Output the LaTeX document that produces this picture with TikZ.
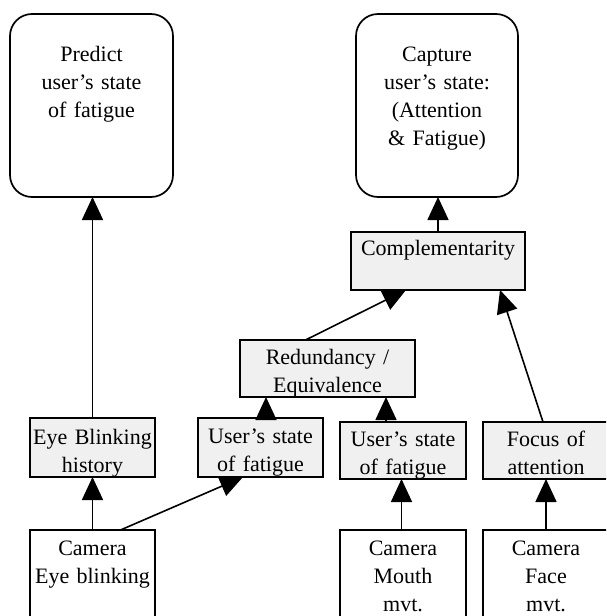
\documentclass[tikz,border=0pt]{standalone}
\usepackage{fontspec}
\setmainfont{Liberation Serif}
\usetikzlibrary{arrows.meta}
\definecolor{stagefill}{RGB}{240,240,240}
\tikzset{
	fusion/.is family,
	fusion/.cd,
	box/.style = {
		draw,
		line width = 1.7pt,
		inner sep = 0pt,
		outer sep = 0pt,
		anchor = north west,
		align = center,
		font = \fontsize{22}{28}\selectfont,
	},
	goal/.style = {
		fusion/box,
		rounded corners = 22pt,
	},
	stage/.style = {
		fusion/box,
		fill = stagefill,
	},
	sensor/.style = {
		fusion/box,
		fill = white,
	},
	link/.style = {
		line width = 1.6pt,
		-{Triangle[length = 23pt, width = 21pt]},
	},
}

\begin{document}
\begin{tikzpicture}[x = 1pt, y = 1pt]
	\path[use as bounding box, clip] (0, 0) rectangle (606, -616);

	% goals
	\node[fusion/goal, text width = 163pt, text height = 47pt, text depth = 136pt] (predict) at (10, -14) {Predict\\user's state\\of fatigue};
	\node[fusion/goal, text width = 162pt, text height = 47pt, text depth = 136pt] (capture) at (356, -14) {Capture\\user's state:\\(Attention\\\& Fatigue)};

	% fusion stages
	\node[fusion/stage, text width = 174pt, text height = 23pt, text depth = 35pt] (compl) at (351, -232) {Complementarity};
	\node[fusion/stage, text width = 175pt, text height = 24pt, text depth = 33pt] (redund) at (240, -340) {Redundancy /\\Equivalence};

	% interpretations
	\node[fusion/stage, text width = 125pt, text height = 26pt, text depth = 33pt] (history) at (30, -418) {Eye Blinking\\history};
	\node[fusion/stage, text width = 125pt, text height = 25pt, text depth = 34pt] (fatigueA) at (198, -418) {User's state\\of fatigue};
	\node[fusion/stage, text width = 126pt, text height = 24pt, text depth = 33pt] (fatigueB) at (340, -422) {User's state\\of fatigue};
	\node[fusion/stage, text width = 126pt, text height = 24pt, text depth = 33pt] (focus) at (483, -422) {Focus of\\attention};

	% sensors
	\node[fusion/sensor, text width = 125pt, text height = 25pt, text depth = 85pt] (camEye) at (30, -530) {Camera\\Eye blinking};
	\node[fusion/sensor, text width = 126pt, text height = 25pt, text depth = 85pt] (camMouth) at (340, -530) {Camera\\Mouth\\mvt.};
	\node[fusion/sensor, text width = 126pt, text height = 25pt, text depth = 85pt] (camFace) at (483, -530) {Camera\\Face\\mvt.};

	\draw[fusion/link] (camEye.north) -- (history.south);
	\draw[fusion/link] ([xshift = 28pt]camEye.north) -- ([xshift = -17.5pt]fatigueA.south);
	\draw[fusion/link] ([xshift = -1.5pt]camMouth.north) -- ([xshift = -1.5pt]fatigueB.south);
	\draw[fusion/link] (camFace.north) -- (focus.south);

	\draw[fusion/link] (history.north) -- (history.north |- predict.south);
	\draw[fusion/link] ([xshift = 5.5pt]fatigueA.north) -- ([xshift = 5.5pt]fatigueA.north |- redund.south);
	\draw[fusion/link] ([xshift = -17pt]fatigueB.north) -- ([xshift = -17pt]fatigueB.north |- redund.south);
	\draw[fusion/link] ([xshift = -22pt]redund.north) -- ([xshift = -32pt]compl.south);
	\draw[fusion/link] ([xshift = -3pt]focus.north) -- ([xshift = 62pt]compl.south);
	\draw[fusion/link] (compl.north) -- (compl.north |- capture.south);
\end{tikzpicture}
\end{document}
